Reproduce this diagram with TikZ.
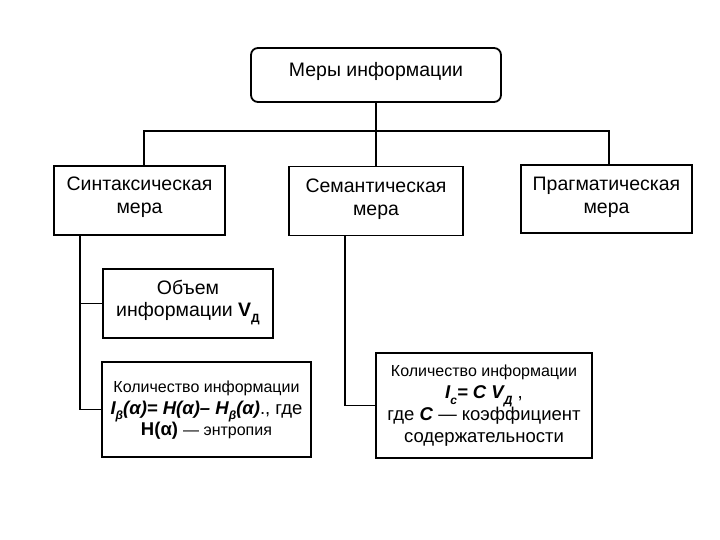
\documentclass[tikz,border=0pt]{standalone}
\usepackage{fontspec}
\setmainfont{Liberation Sans}
\newcommand\sbs[1]{\raisebox{-0.3em}{\fontsize{12}{12}\selectfont #1}}
\newcommand\bi[1]{\textbf{\textit{#1}}}
\tikzset{
  box/.style={draw, line width=1.8pt, fill=white, inner sep=0pt},
  lbl/.style={align=center, inner sep=0pt, font=\fontsize{19.5}{23}\selectfont},
  sml/.style={align=center, inner sep=0pt, font=\fontsize{18.5}{21.5}\selectfont},
  conn/.style={line width=1.8pt}
}
\begin{document}
\begin{tikzpicture}[x=1pt,y=-1pt]
\useasboundingbox (0,0) rectangle (720,540);
\node[box, rounded corners=7pt, minimum width=250pt, minimum height=54pt] (top) at (376,75) {};
\node[lbl] (toptext) at (376,71.5) {Меры информации};
\node[box, minimum width=171pt, minimum height=69pt] (syn) at (139.5,200.5) {};
\node[lbl] (syntext) at (139.5,197) {Синтаксическая\\мера};
\node[box, minimum width=174pt, minimum height=69pt] (sem) at (376,201) {};
\node[lbl] (semtext) at (376,199) {Семантическая\\мера};
\node[box, minimum width=171pt, minimum height=68pt] (prag) at (606.5,199) {};
\node[lbl] (pragtext) at (606.5,197.5) {Прагматическая\\мера};
\node[box, minimum width=170pt, minimum height=69pt] (vol) at (188,303.5) {};
\node[lbl, font=\fontsize{19.5}{22}\selectfont] (voltext) at (188,302.5) {Объем\\информации \textbf{V\sbs{\textbf{Д}}}};
\node[box, minimum width=209pt, minimum height=95pt] (qL) at (206.5,409.5) {};
\node[sml] (qLtext) at (206.5,410.5)
  {{\fontsize{16}{16}\selectfont Количество информации}\\
   \bi{I\sbs{\bi{β}}(α)= H(α)– H\sbs{\bi{β}}(α)}., где\\
   \textbf{H(α)} {\fontsize{16}{16}\selectfont — энтропия}};
\node[box, minimum width=216pt, minimum height=105pt] (qR) at (484,405.5) {};
\node[sml, font=\fontsize{18.5}{22}\selectfont] (qRtext) at (484,406)
  {{\fontsize{16}{16}\selectfont Количество информации}\\
   \bi{I\sbs{\bi{c}}= C V\sbs{\bi{Д}}} ,\\
   где \bi{C} — коэффициент\\
   содержательности};
\coordinate (bus) at (376,131);
\draw[conn] (top.south) -- (sem.north);
\draw[conn] ([xshift=4.5pt]syn.north) |- (bus) -| ([xshift=2.5pt]prag.north);
\draw[conn] ([xshift=-59.5pt]syn.south) |- (qL.west);
\draw[conn] ([xshift=-59.5pt]syn.south |- vol.west) -- (vol.west);
\draw[conn] ([xshift=-31pt]sem.south) |- (qR.west);
\end{tikzpicture}
\end{document}
